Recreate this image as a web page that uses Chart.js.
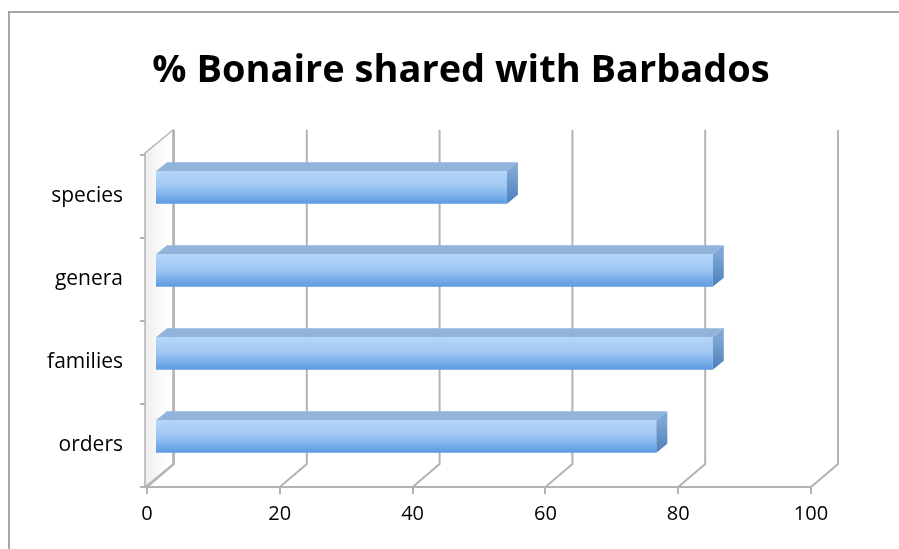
<!DOCTYPE html>
<html>
<head>
<meta charset="utf-8">
<script src="https://cdn.jsdelivr.net/npm/chart.js@4"></script>
<style>
  html, body { margin: 0; padding: 0; background: #fff; }
</style>
</head>
<body>
<canvas id="shareChart" width="899" height="549"></canvas>
<script>
const categories = ['species', 'genera', 'families', 'orders'];
const sharedPercent = [53, 84, 84, 75.5];
const xTickValues = [0, 20, 40, 60, 80, 100];
const chartTitle = '% Bonaire shared with Barbados';

// fake 3d offsets (px)
const wallDX = 27, wallDY = -23;
const barDX = 11, barDY = -9;
const shiftX = 8, shiftY = -9;
const gridGrey = '#b3b3b3';

const frame3d = {
    id: 'frame3d',
    beforeDraw(chart) {
        const c = chart.ctx;
        c.save();
        c.strokeStyle = '#a6a6a6';
        c.lineWidth = 2;
        c.beginPath();
        c.moveTo(9, 549);
        c.lineTo(9, 12);
        c.lineTo(899, 12);
        c.stroke();

        // title, drawn here so it can sit off-centre like the original
        c.fillStyle = '#000';
        c.font = 'bold 38px "Open Sans"';
        c.textAlign = 'center';
        c.textBaseline = 'alphabetic';
        c.fillText(chartTitle, 461, 82);
        c.restore();
    },
    beforeDatasetsDraw(chart) {
        const { ctx, chartArea, scales } = chart;
        const top = chartArea.top, bottom = chartArea.bottom;
        const x0 = scales.x.getPixelForValue(0);

        // side wall
        ctx.save();
        const wg = ctx.createLinearGradient(x0, 0, x0 + wallDX, 0);
        wg.addColorStop(0, '#eeeeee');
        wg.addColorStop(0.5, '#fafafa');
        wg.addColorStop(1, '#ffffff');
        ctx.fillStyle = wg;
        ctx.strokeStyle = gridGrey;
        ctx.lineWidth = 1.5;
        ctx.beginPath();
        ctx.moveTo(x0 - 2, bottom);
        ctx.lineTo(x0 - 2, top - 2);
        ctx.lineTo(x0 + wallDX - 1, top - 2 + wallDY);
        ctx.lineTo(x0 + wallDX - 1, bottom + wallDY);
        ctx.closePath();
        ctx.fill();
        ctx.stroke();

        // back wall gridlines + floor connectors
        ctx.strokeStyle = gridGrey;
        ctx.lineWidth = 2;
        xTickValues.forEach(v => {
            const fx = scales.x.getPixelForValue(v);
            ctx.beginPath();
            ctx.moveTo(fx, bottom);
            ctx.lineTo(fx + wallDX, bottom + wallDY);
            ctx.lineTo(fx + wallDX, top - 2 + wallDY);
            ctx.stroke();
        });
        ctx.restore();

        // bars sit a little behind the front plane
        ctx.save();
        ctx.translate(shiftX, shiftY);
    },
    afterDatasetsDraw(chart) {
        const ctx = chart.ctx;
        const meta = chart.getDatasetMeta(0);
        meta.data.forEach(bar => {
            const { x, y, base, height } = bar.getProps(['x', 'y', 'base', 'height'], true);
            const t = y - height / 2, b = y + height / 2;

            // top face
            ctx.fillStyle = '#92b3da';
            ctx.beginPath();
            ctx.moveTo(base, t);
            ctx.lineTo(x, t);
            ctx.lineTo(x + barDX, t + barDY);
            ctx.lineTo(base + barDX, t + barDY);
            ctx.closePath();
            ctx.fill();

            // end face
            const sg = ctx.createLinearGradient(0, t, 0, b);
            sg.addColorStop(0, '#7ea6d4');
            sg.addColorStop(1, '#4a7fbb');
            ctx.fillStyle = sg;
            ctx.beginPath();
            ctx.moveTo(x, t);
            ctx.lineTo(x + barDX, t + barDY);
            ctx.lineTo(x + barDX, b + barDY);
            ctx.lineTo(x, b);
            ctx.closePath();
            ctx.fill();
        });
        ctx.restore();
    }
};

const ctx = document.getElementById('shareChart').getContext('2d');

new Chart(ctx, {
    type: 'bar',
    data: {
        labels: categories,
        datasets: [{
            data: sharedPercent,
            backgroundColor(c) {
                const chart = c.chart;
                const ys = chart.scales && chart.scales.y;
                if (!ys || c.dataIndex === undefined) return '#8dbbee';
                const yc = ys.getPixelForValue(c.dataIndex);
                if (!isFinite(yc)) return '#8dbbee';
                const g = chart.ctx.createLinearGradient(0, yc - 16, 0, yc + 16);
                g.addColorStop(0, '#b4d6fa');
                g.addColorStop(0.45, '#a0c8f3');
                g.addColorStop(1, '#5c9ce0');
                return g;
            },
            borderWidth: 0,
            categoryPercentage: 1,
            barPercentage: 0.39,
            clip: false
        }]
    },
    options: {
        indexAxis: 'y',
        responsive: false,
        animation: false,
        layout: { padding: { left: 0, right: 88, top: 155, bottom: 0 } },
        plugins: {
            legend: { display: false },
            tooltip: { enabled: false },
            title: { display: false }
        },
        scales: {
            x: {
                min: 0,
                max: 100,
                ticks: {
                    stepSize: 20,
                    color: '#000',
                    font: { family: 'Open Sans', size: 20 },
                    padding: 8
                },
                grid: {
                    drawOnChartArea: false,
                    tickLength: 7,
                    color: gridGrey,
                    lineWidth: 2
                },
                border: { color: gridGrey, width: 2 },
                afterFit(s) { s.height = 62; }
            },
            y: {
                ticks: {
                    color: '#000',
                    font: { family: 'Open Sans', size: 21 },
                    padding: 17
                },
                grid: {
                    drawOnChartArea: false,
                    offset: true,
                    tickLength: 7,
                    color: gridGrey,
                    lineWidth: 2
                },
                border: { color: gridGrey, width: 2 },
                afterFit(s) { s.width = 147; }
            }
        }
    },
    plugins: [frame3d]
});
</script>
</body>
</html>
